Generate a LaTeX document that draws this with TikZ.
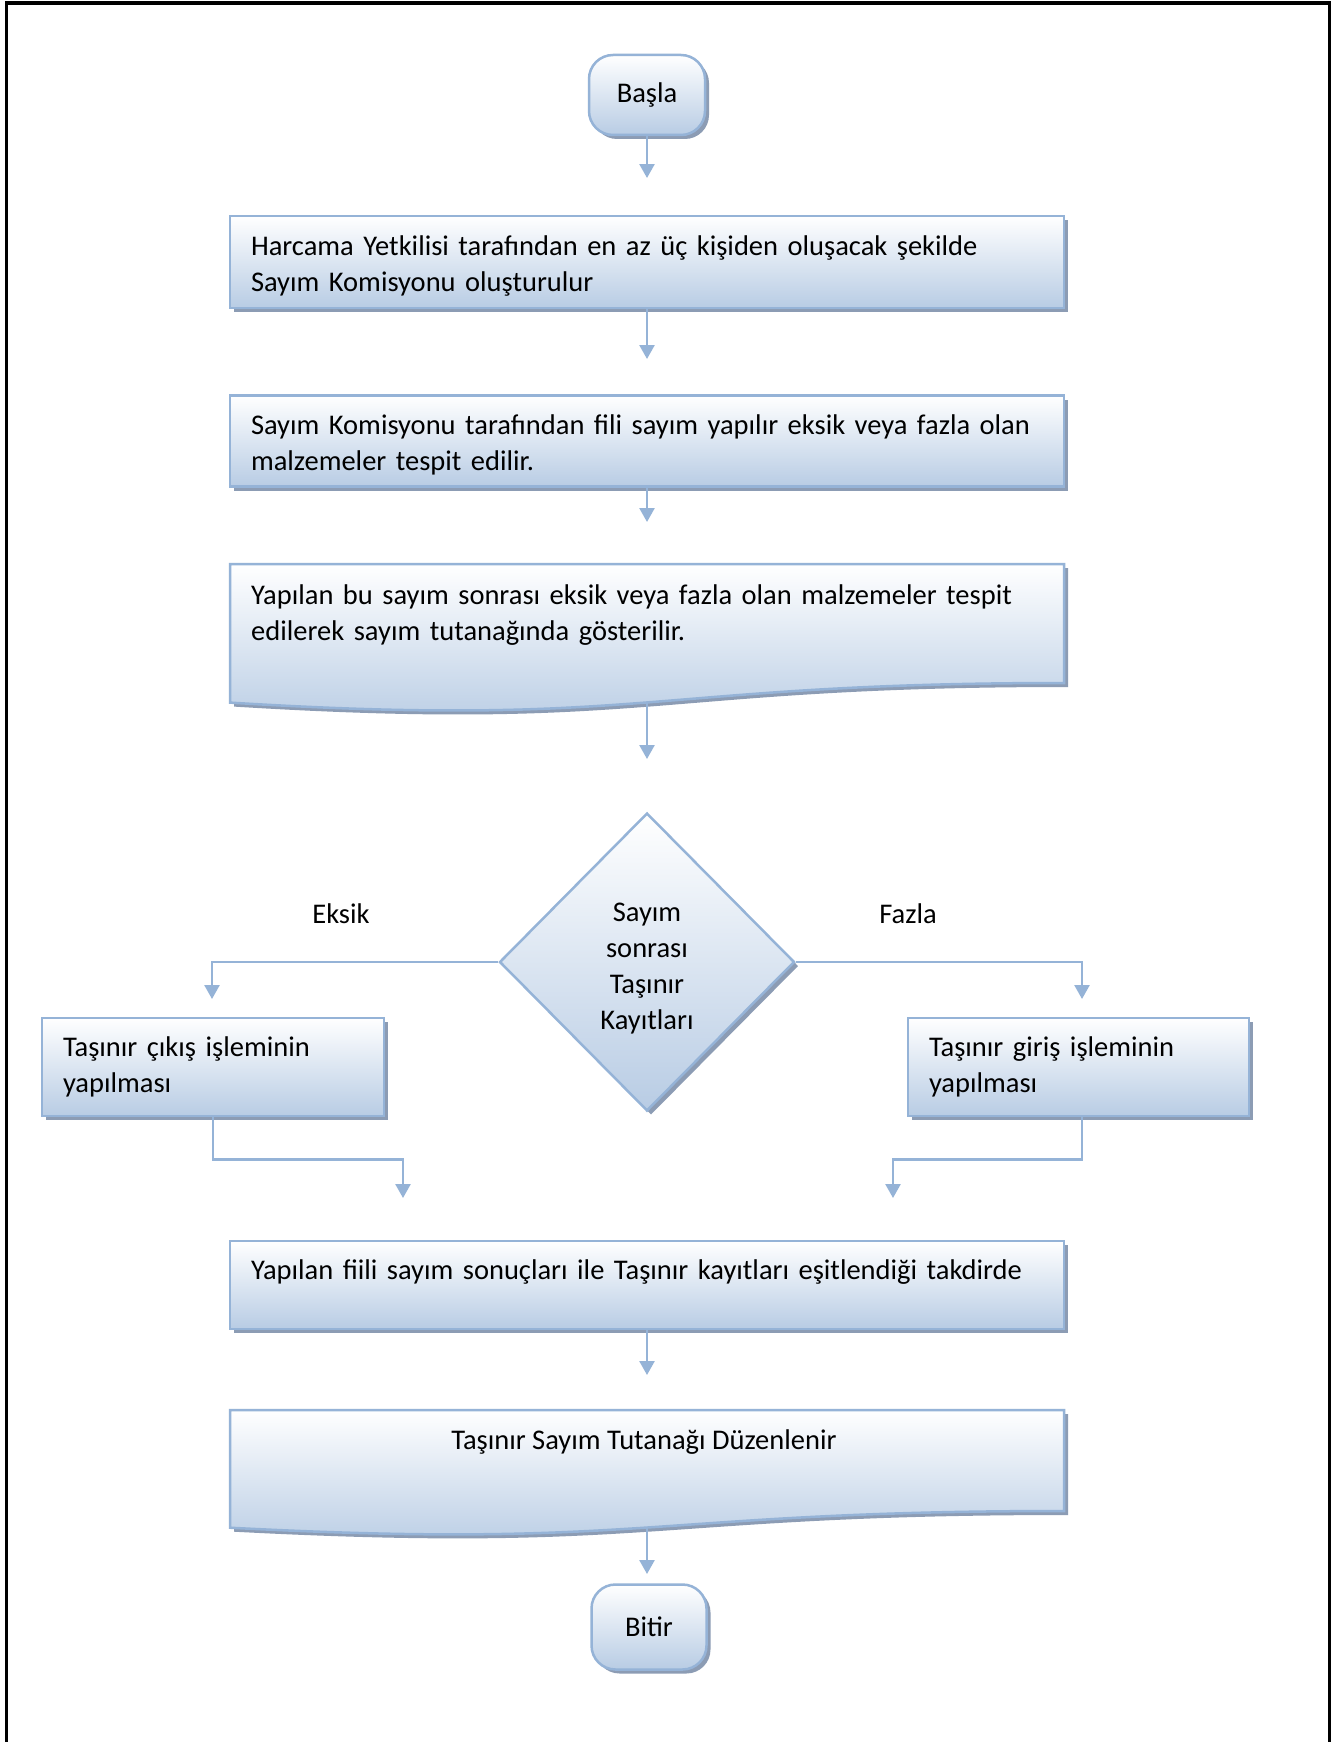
\documentclass[tikz,border=0pt]{standalone}
\usepackage{fontspec}
\setmainfont{Carlito}
\usetikzlibrary{shapes.geometric,arrows.meta,shadows}
\definecolor{lineblue}{RGB}{149,179,215}
\definecolor{fillblue}{RGB}{184,204,228}
\definecolor{shadowc}{RGB}{140,156,180}
\newcommand{\flowfont}{\fontsize{28.5}{36}\selectfont}
\newcommand{\topstrut}[1]{\rule{0pt}{#1}}
\tikzset{
  flow/.style={draw=lineblue, line width=2.5pt, top color=white, bottom color=fillblue,
    drop shadow={shadow xshift=4pt, shadow yshift=-4pt, fill=shadowc, opacity=1}},
  procbox/.style={flow, rectangle, align=left, inner xsep=21pt, inner ysep=0pt, font=\flowfont},
  term/.style={flow, rectangle, rounded corners=24pt, inner sep=0pt, font=\flowfont},
  decision/.style={flow, diamond, align=center, inner sep=0pt, font=\flowfont},
  doctext/.style={inner sep=0pt, font=\flowfont},
  conn/.style={draw=lineblue, line width=2.5pt, -{Triangle[width=15pt,length=14pt]}},
  lbl/.style={inner sep=0pt, font=\flowfont}
}
\begin{document}
\begin{tikzpicture}[x=1pt,y=-1pt]
\useasboundingbox (0,0) rectangle (1341,1742);
\fill[white] (0,0) rectangle (1341,1742);
\draw[black, line width=3.5pt] (6.5,1742) -- (6.5,3) -- (1329.5,3) -- (1329.5,1742);

% terminals
\node[term, minimum width=116pt, minimum height=80pt] (start) at (647,95) {Başla};
\node[term, minimum width=115pt, minimum height=85pt] (stop) at (649,1627) {Bitir};

% process boxes
\node[procbox, minimum width=834pt, minimum height=92pt, text width=792pt] (b1) at (647,262)
  {\topstrut{27pt}Harcama Yetkilisi tarafından en az üç kişiden oluşacak şekilde\\Sayım Komisyonu oluşturulur};
\node[procbox, minimum width=834pt, minimum height=91pt, text width=792pt] (b2) at (647,441)
  {\topstrut{27pt}Sayım Komisyonu tarafından fili sayım yapılır eksik veya fazla olan\\malzemeler tespit edilir.};

% document 1
\fill[shadowc, shift={(4,4)}] (230,564) -- (1064,564) -- (1064,683)
  .. controls (647,683) and (647,728.3) .. (230,702.6) -- cycle;
\path[draw=lineblue, line width=2.5pt, top color=white, bottom color=fillblue]
  (230,564) -- (1064,564) -- (1064,683)
  .. controls (647,683) and (647,728.3) .. (230,702.6) -- cycle;
\node[doctext, anchor=north west, text width=792pt, align=left] (b3) at (251,585)
  {Yapılan bu sayım sonrası eksik veya fazla olan malzemeler tespit\\edilerek sayım tutanağında gösterilir.};
\coordinate (b3bot) at (647,702.5);

% decision
\node[decision, minimum width=295pt, minimum height=298pt] (dec) at (647,962)
  {\topstrut{31pt}Sayım\\sonrası\\Taşınır\\Kayıtları};
\node[lbl] (eksik) at (341,914) {Eksik};
\node[lbl] (fazla) at (908,914) {Fazla};

% side boxes
\node[procbox, minimum width=342pt, minimum height=98pt, text width=300pt] (lb) at (213,1067)
  {Taşınır çıkış işleminin\\yapılması};
\node[procbox, minimum width=341pt, minimum height=98pt, text width=299pt] (rb) at (1078.5,1067)
  {Taşınır giriş işleminin\\yapılması};

\node[procbox, minimum width=834pt, minimum height=88pt, text width=792pt, text depth=30pt] (b5) at (647,1285)
  {Yapılan fiili sayım sonuçları ile Taşınır kayıtları eşitlendiği takdirde};

% document 2
\fill[shadowc, shift={(4,4)}] (230,1410) -- (1064,1410) -- (1064,1511)
  .. controls (647,1511) and (647,1549.5) .. (230,1527.7) -- cycle;
\path[draw=lineblue, line width=2.5pt, top color=white, bottom color=fillblue]
  (230,1410) -- (1064,1410) -- (1064,1511)
  .. controls (647,1511) and (647,1549.5) .. (230,1527.7) -- cycle;
\node[doctext, anchor=north] (b6) at (644,1429) {Taşınır Sayım Tutanağı Düzenlenir};
\coordinate (b6bot) at (647,1527.6);

% arrow ends
\coordinate (a1) at (647,178);
\coordinate (a2) at (647,359);
\coordinate (a3) at (647,522);
\coordinate (a4) at (647,759);
\coordinate (aE) at (212,999);
\coordinate (aF) at (1082,999);
\coordinate (aL) at (403,1198);
\coordinate (aR) at (893,1198);
\coordinate (a6) at (647,1375);
\coordinate (a7) at (647,1574);

\draw[conn] (start.south) -- (a1);
\draw[conn] (b1.south) -- (a2);
\draw[conn] (b2.south) -- (a3);
\draw[conn] (b3bot) -- (a4);
\draw[conn] (dec.west) -| (aE);
\draw[conn] (dec.east) -| (aF);
\draw[conn] (lb.south) -- ++(0,42) -| (aL);
\draw[conn] ([xshift=3.5pt]rb.south) -- ++(0,42) -| (aR);
\draw[conn] (b5.south) -- (a6);
\draw[conn] (b6bot) -- (a7);
\end{tikzpicture}
\end{document}
